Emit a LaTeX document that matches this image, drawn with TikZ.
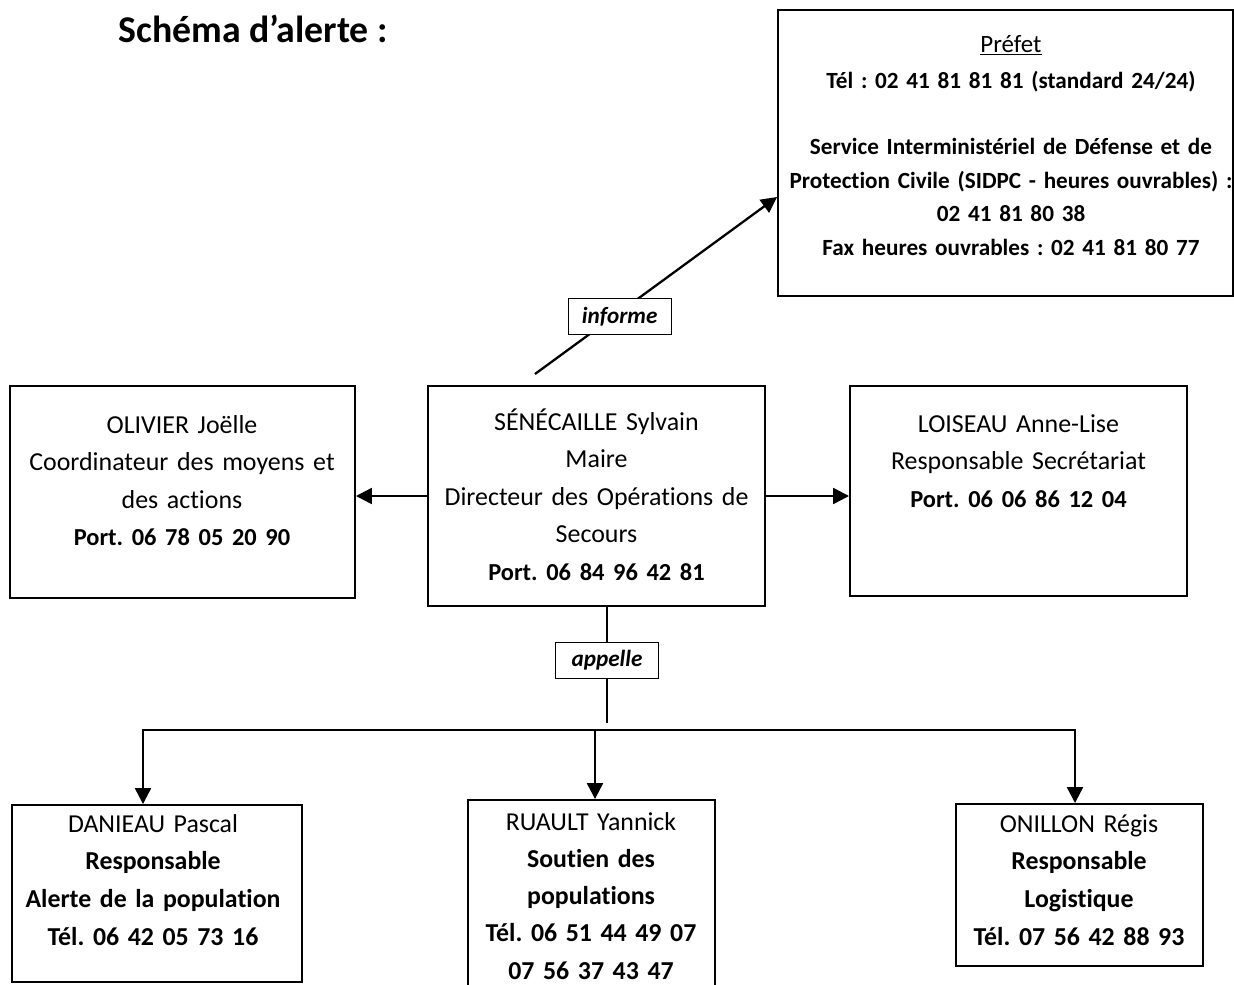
\documentclass[tikz,border=0pt]{standalone}
\usepackage{fontspec}
\setmainfont{Carlito}[Ligatures=NoCommon]
\usetikzlibrary{arrows.meta,fit}
\frenchspacing
\newcommand{\gras}[1]{{\fontsize{13.9}{21.4}\selectfont\bfseries #1}}
\tikzset{
	boite/.style={draw, line width=1.1pt, inner sep=0pt},
	texte/.style={anchor=base, text width=12cm, align=center, inner sep=0pt, font=\fontsize{14.75}{21.4}\selectfont},
	textebas/.style={texte, font=\fontsize{14.7}{21.6}\selectfont},
	fleche/.style={line width=1.3pt, -{Triangle[length=9pt,width=9pt]}},
	trait/.style={line width=1.2pt},
	etiquette/.style={draw, line width=0.6pt, fill=white, inner sep=0pt, minimum width=2.06cm, minimum height=0.72cm, font=\fontsize{13.2}{16}\selectfont\bfseries\itshape},
}
\begin{document}
\begin{tikzpicture}[x=0.02cm, y=-0.02cm]
	\useasboundingbox (0,0) rectangle (1234,984);

	\node[anchor=base west, inner sep=0pt, font=\fontsize{21.5}{25}\selectfont\bfseries] (titre) at (118,42) {Schéma d’alerte :};%titre

	% les cadres
	\node[boite, fit={(778,10) (1233,296)}] (prefet) {};
	\node[boite, fit={(10,386) (355,598)}] (olivier) {};
	\node[boite, fit={(428,386) (765,606)}] (senecaille) {};
	\node[boite, fit={(850,386) (1187,596)}] (loiseau) {};
	\node[boite, fit={(12,805) (302,982)}] (danieau) {};
	\node[boite, fit={(468,800) (715,1010)}] (ruault) {};
	\node[boite, fit={(956,804) (1203,966)}] (onillon) {};

	% les textes
	\node[texte, font=\fontsize{13.2}{19}\selectfont] (prefetTxt) at (1011,52) {{\fontsize{14.2}{19}\selectfont\underline{Préfet}}\\[1.6pt]
		\textbf{Tél : 02 41 81 81 81 (standard 24/24)}\\[19pt]
		\textbf{Service Interministériel de Défense et de}\\
		\textbf{Protection Civile (SIDPC - heures ouvrables) :}\\
		\textbf{02 41 81 80 38}\\
		\textbf{Fax heures ouvrables : 02 41 81 80 77}};
	\node[texte] (olivierTxt) at (182,433) {OLIVIER Joëlle\\ Coordinateur des moyens et\\ des actions\\ \gras{Port. 06 78 05 20 90}};
	\node[texte] (senecailleTxt) at (596.5,430) {SÉNÉCAILLE Sylvain\\ Maire\\ Directeur des Opérations de\\ Secours\\ \gras{Port. 06 84 96 42 81}};
	\node[texte] (loiseauTxt) at (1018.5,432) {LOISEAU Anne-Lise\\ Responsable Secrétariat\\ \gras{Port. 06 06 86 12 04}};
	\node[textebas] (danieauTxt) at (153,832) {DANIEAU Pascal\\ \textbf{Responsable}\\ \textbf{Alerte de la population}\\ \textbf{Tél. 06 42 05 73 16}};
	\node[textebas, font=\fontsize{14.7}{21.2}\selectfont] (ruaultTxt) at (591,830) {RUAULT Yannick\\ \textbf{Soutien des}\\ \textbf{populations}\\ \textbf{Tél. 06 51 44 49 07}\\ \textbf{07 56 37 43 47}};
	\node[textebas] (onillonTxt) at (1079,832) {ONILLON Régis\\ \textbf{Responsable}\\ \textbf{Logistique}\\ \textbf{Tél. 07 56 42 88 93}};

	% informe
	\coordinate (depart) at (535,374);
	\coordinate (arrivee) at (prefet.west |- 0,197);
	\draw[fleche] (depart) -- (arrivee) node[etiquette, pos=0.35, yshift=-2.6pt] (informe) {informe};

	\draw[fleche] (senecaille.west) -- (senecaille.west -| olivier.east);%vers la gauche
	\draw[fleche] (senecaille.east) -- (senecaille.east -| loiseau.west);%vers la droite

	% appelle
	\coordinate (haut) at ([xshift=6pt]senecaille.south);
	\coordinate (bas) at (haut |- 0,723);
	\draw[trait] (haut) -- (bas) node[etiquette, pos=0.46] (appelle) {appelle};

	\coordinate (busG) at (143,730);
	\coordinate (busM) at (595,730);
	\coordinate (busD) at (1075,730);
	\draw[fleche] (busM) -| (busG |- danieau.north);
	\draw[fleche] (busM) -- (busM |- ruault.north);
	\draw[fleche] (busM) -| (busD |- onillon.north);

\end{tikzpicture}
\end{document}
